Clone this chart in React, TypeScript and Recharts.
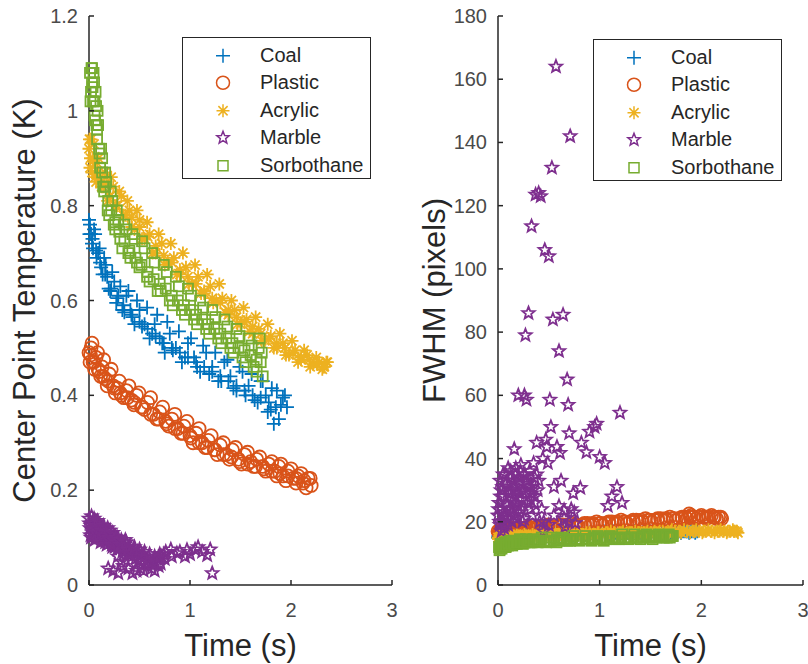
import React from "react";
import { ScatterChart, Scatter, XAxis, YAxis, Legend, Label } from "recharts";

// ---- data (each material has several passes of samples) ----
const coalTime = [
  0.00, 0.02, 0.04, 0.06, 0.09, 0.12, 0.15, 0.18, 0.21, 0.25, 0.29, 0.33, 0.37, 0.41, 0.45, 0.50, 0.55, 0.60, 0.65, 0.70, 0.75, 0.80, 0.86, 0.92, 0.98, 1.04, 1.10, 1.16, 1.22, 1.28, 1.34, 1.40, 1.46, 1.52, 1.58, 1.64, 1.70, 1.75, 1.80, 1.83, 1.86, 1.90, 1.94,
  0.01, 0.03, 0.05, 0.075, 0.105, 0.135, 0.165, 0.195, 0.23, 0.27, 0.31, 0.35, 0.39, 0.43, 0.475, 0.525, 0.575, 0.625, 0.675, 0.725, 0.775, 0.83, 0.89, 0.95, 1.01, 1.07, 1.13, 1.19, 1.25, 1.31, 1.37, 1.43, 1.49, 1.55, 1.61, 1.67, 1.72, 1.77, 1.81, 1.88, 1.92, 1.96,
  0.005, 0.035, 0.07, 0.11, 0.16, 0.22, 0.28, 0.34, 0.42, 0.50, 0.58, 0.66, 0.74, 0.82, 0.90, 0.98, 1.06, 1.14, 1.22, 1.30, 1.38, 1.46, 1.54, 1.62, 1.70, 1.78, 1.85,
];
const coalTemp = [
  0.77, 0.74, 0.71, 0.74, 0.70, 0.67, 0.69, 0.65, 0.62, 0.64, 0.61, 0.58, 0.61, 0.58, 0.55, 0.58, 0.55, 0.52, 0.55, 0.52, 0.49, 0.53, 0.50, 0.47, 0.51, 0.48, 0.45, 0.49, 0.46, 0.43, 0.47, 0.44, 0.41, 0.45, 0.42, 0.39, 0.43, 0.40, 0.37, 0.34, 0.41, 0.38, 0.40,
  0.76, 0.72, 0.75, 0.69, 0.71, 0.655, 0.675, 0.625, 0.66, 0.595, 0.63, 0.575, 0.62, 0.565, 0.60, 0.545, 0.585, 0.53, 0.57, 0.51, 0.555, 0.495, 0.535, 0.48, 0.52, 0.46, 0.505, 0.445, 0.49, 0.43, 0.475, 0.415, 0.46, 0.40, 0.445, 0.385, 0.43, 0.365, 0.415, 0.35, 0.395, 0.375,
  0.74, 0.73, 0.705, 0.68, 0.655, 0.625, 0.605, 0.59, 0.57, 0.555, 0.54, 0.525, 0.51, 0.50, 0.49, 0.48, 0.47, 0.46, 0.45, 0.44, 0.43, 0.42, 0.41, 0.40, 0.395, 0.385, 0.375,
];
const coalFwhm = [
  15, 16, 14.5, 15.5, 16, 15, 16, 15.5, 16.5, 15, 16, 15.5, 16.5, 15.5, 16, 16.5, 15.5, 16, 16.5, 16, 15.5, 16.5, 16, 16.5, 16, 17, 16, 16.5, 17, 16.5, 17, 16.5, 17, 17, 16.5, 17, 17, 17, 16.5, 17, 17, 17, 16.5,
  15.5, 15, 16, 15.5, 15, 16, 15.5, 16, 15.5, 16, 16, 15.5, 16, 16.5, 16, 15.5, 16.5, 16, 16, 16.5, 16, 16.5, 16, 16.5, 16.5, 16, 17, 16.5, 16.5, 17, 16.5, 17, 17, 16.5, 17, 17, 16.5, 17, 17, 16.5, 17, 17,
  15.5, 15, 16, 15.5, 16, 15.5, 16, 16, 15.5, 16, 16, 16.5, 16, 16.5, 16.5, 16, 16.5, 16.5, 17, 16.5, 16.5, 17, 16.5, 17, 16.5, 17, 17,
];

const plasticTime = [
  0.00, 0.02, 0.04, 0.07, 0.10, 0.13, 0.16, 0.20, 0.24, 0.28, 0.32, 0.37, 0.42, 0.47, 0.52, 0.58, 0.64, 0.70, 0.76, 0.82, 0.88, 0.94, 1.00, 1.06, 1.12, 1.18, 1.24, 1.30, 1.36, 1.42, 1.48, 1.54, 1.60, 1.66, 1.72, 1.78, 1.84, 1.88, 1.92, 1.97, 2.02, 2.07, 2.12, 2.17, 2.20,
  0.01, 0.03, 0.055, 0.085, 0.115, 0.145, 0.18, 0.22, 0.26, 0.30, 0.345, 0.395, 0.445, 0.495, 0.55, 0.61, 0.67, 0.73, 0.79, 0.85, 0.91, 0.97, 1.03, 1.09, 1.15, 1.21, 1.27, 1.33, 1.39, 1.45, 1.51, 1.57, 1.63, 1.69, 1.75, 1.81, 1.86, 1.90, 1.95, 2.00, 2.05, 2.10, 2.15, 2.19,
  0.015, 0.05, 0.09, 0.14, 0.19, 0.25, 0.31, 0.38, 0.45, 0.53, 0.61, 0.69, 0.77, 0.85, 0.93, 1.01, 1.09, 1.17, 1.25, 1.33, 1.41, 1.49, 1.57, 1.65, 1.73, 1.81, 1.89, 1.97, 2.05, 2.13,
];
const plasticTemp = [
  0.49, 0.50, 0.47, 0.48, 0.45, 0.46, 0.435, 0.445, 0.42, 0.415, 0.40, 0.41, 0.39, 0.40, 0.375, 0.385, 0.36, 0.365, 0.345, 0.35, 0.33, 0.335, 0.315, 0.32, 0.30, 0.305, 0.285, 0.295, 0.275, 0.285, 0.265, 0.275, 0.26, 0.265, 0.25, 0.255, 0.24, 0.25, 0.23, 0.24, 0.225, 0.23, 0.215, 0.225, 0.21,
  0.47, 0.51, 0.455, 0.49, 0.44, 0.475, 0.42, 0.455, 0.405, 0.43, 0.395, 0.42, 0.38, 0.405, 0.37, 0.395, 0.35, 0.375, 0.335, 0.36, 0.32, 0.345, 0.30, 0.33, 0.29, 0.315, 0.275, 0.30, 0.265, 0.29, 0.255, 0.28, 0.25, 0.27, 0.24, 0.26, 0.23, 0.255, 0.22, 0.245, 0.215, 0.235, 0.205, 0.225,
  0.485, 0.47, 0.455, 0.44, 0.43, 0.415, 0.405, 0.395, 0.385, 0.375, 0.36, 0.35, 0.34, 0.33, 0.32, 0.31, 0.30, 0.29, 0.285, 0.275, 0.27, 0.26, 0.255, 0.25, 0.245, 0.24, 0.235, 0.23, 0.225, 0.22,
];
const plasticFwhm = [
  17, 16.5, 17.5, 17, 17.5, 17, 17.5, 18, 17.5, 18, 18, 18, 18.5, 18, 18.5, 18.5, 19, 18.5, 19, 19, 19.5, 19, 19.5, 19.5, 20, 19.5, 20, 20, 20.5, 20, 20.5, 20.5, 21, 20.5, 21, 21, 21.5, 22.5, 21.5, 21.5, 21.5, 21.5, 21.5, 21.5, 21,
  16.5, 17.5, 16.5, 17.5, 17, 18, 17, 18, 17.5, 18.5, 17.5, 18.5, 18, 19, 18, 19, 18.5, 19.5, 18.5, 19.5, 19, 20, 19, 20, 19.5, 20.5, 19.5, 20.5, 20, 21, 20, 21, 20.5, 21.5, 20.5, 21.5, 21, 22, 21, 22, 21, 22, 21, 21.5,
  17, 17, 17.5, 17.5, 17.5, 18, 18, 18, 18.5, 18.5, 18.5, 19, 19, 19, 19.5, 19.5, 19.5, 20, 20, 20, 20.5, 20.5, 20.5, 21, 21, 21, 21.5, 21.5, 21.5, 21.5,
];

const acrylicTime = [
  0.00, 0.01, 0.02, 0.04, 0.06, 0.08, 0.11, 0.14, 0.17, 0.20, 0.24, 0.28, 0.32, 0.36, 0.40, 0.45, 0.50, 0.55, 0.60, 0.66, 0.72, 0.78, 0.84, 0.90, 0.96, 1.02, 1.08, 1.14, 1.20, 1.26, 1.32, 1.38, 1.44, 1.50, 1.56, 1.62, 1.68, 1.74, 1.80, 1.86, 1.92, 1.98, 2.04, 2.10, 2.16, 2.22, 2.28, 2.33, 2.36,
  0.005, 0.03, 0.05, 0.07, 0.095, 0.125, 0.155, 0.185, 0.22, 0.26, 0.30, 0.34, 0.38, 0.425, 0.475, 0.525, 0.575, 0.63, 0.69, 0.75, 0.81, 0.87, 0.93, 0.99, 1.05, 1.11, 1.17, 1.23, 1.29, 1.35, 1.41, 1.47, 1.53, 1.59, 1.65, 1.71, 1.77, 1.83, 1.89, 1.95, 2.01, 2.07, 2.13, 2.19, 2.25, 2.31, 2.35,
  0.015, 0.045, 0.09, 0.15, 0.21, 0.27, 0.34, 0.42, 0.50, 0.58, 0.66, 0.74, 0.82, 0.90, 0.98, 1.06, 1.14, 1.22, 1.30, 1.38, 1.46, 1.54, 1.62, 1.70, 1.78, 1.86, 1.94, 2.02, 2.10, 2.18, 2.26, 2.32,
];
const acrylicTemp = [
  0.92, 0.88, 0.94, 0.90, 0.86, 0.89, 0.86, 0.84, 0.86, 0.82, 0.84, 0.80, 0.82, 0.78, 0.79, 0.75, 0.77, 0.73, 0.74, 0.70, 0.72, 0.68, 0.69, 0.655, 0.67, 0.635, 0.65, 0.615, 0.63, 0.60, 0.605, 0.57, 0.58, 0.55, 0.56, 0.53, 0.54, 0.515, 0.525, 0.50, 0.51, 0.485, 0.495, 0.475, 0.485, 0.465, 0.47, 0.46, 0.47,
  0.94, 0.87, 0.93, 0.85, 0.90, 0.84, 0.87, 0.81, 0.86, 0.80, 0.83, 0.78, 0.81, 0.755, 0.79, 0.73, 0.765, 0.70, 0.74, 0.675, 0.72, 0.655, 0.70, 0.635, 0.675, 0.615, 0.655, 0.595, 0.635, 0.575, 0.60, 0.55, 0.585, 0.535, 0.565, 0.515, 0.55, 0.50, 0.53, 0.485, 0.515, 0.47, 0.495, 0.46, 0.48, 0.455, 0.47,
  0.90, 0.895, 0.87, 0.845, 0.82, 0.80, 0.78, 0.775, 0.755, 0.735, 0.715, 0.695, 0.68, 0.665, 0.65, 0.635, 0.62, 0.605, 0.595, 0.58, 0.565, 0.555, 0.545, 0.53, 0.52, 0.51, 0.50, 0.49, 0.48, 0.475, 0.465, 0.46,
];
const acrylicFwhm = [
  15, 14.5, 15.5, 15, 15, 15.5, 15, 15.5, 15, 15.5, 15.5, 15.5, 15.5, 15.5, 16, 15.5, 16, 15.5, 16, 16, 16, 16, 16, 16, 16, 16, 16.5, 16, 16.5, 16, 16.5, 16.5, 16.5, 16.5, 16.5, 16.5, 16.5, 17, 16.5, 17, 17, 17, 17, 17, 17, 17, 17, 17, 16.5,
  14.5, 15.5, 14.5, 15.5, 15, 16, 15, 16, 15, 16, 15.5, 16, 15.5, 16, 15.5, 16.5, 15.5, 16.5, 15.5, 16.5, 16, 16.5, 16, 16.5, 16, 17, 16, 17, 16.5, 17, 16.5, 17, 16.5, 17, 16.5, 17.5, 16.5, 17.5, 16.5, 17.5, 16.5, 17.5, 16.5, 17.5, 16.5, 17.5, 17,
  15, 15, 15, 15.5, 15.5, 15.5, 15.5, 16, 16, 16, 16, 16, 16, 16.5, 16.5, 16.5, 16.5, 16.5, 16.5, 16.5, 16.5, 17, 17, 17, 17, 17, 17, 17, 17, 17, 17, 17,
];

const marbleTime = [
  0.00, 0.01, 0.02, 0.02, 0.03, 0.04, 0.05, 0.05, 0.06, 0.06, 0.07, 0.08, 0.09, 0.10, 0.10, 0.11, 0.12, 0.13, 0.13, 0.14, 0.16, 0.16, 0.17, 0.17, 0.18, 0.19, 0.20, 0.21, 0.21, 0.22, 0.23, 0.24, 0.24, 0.25, 0.26, 0.27, 0.28, 0.28, 0.29, 0.30, 0.31, 0.32, 0.33, 0.33, 0.34, 0.35, 0.36, 0.36, 0.37, 0.38, 0.39, 0.40, 0.41, 0.42, 0.43, 0.44, 0.45, 0.46, 0.47, 0.48, 0.49, 0.50, 0.51, 0.52, 0.53, 0.54, 0.55, 0.57, 0.58, 0.60, 0.61, 0.62, 0.64, 0.65, 0.66, 0.68, 0.69, 0.70, 0.71, 0.72, 0.74, 0.76, 0.81, 0.82, 0.87, 0.90, 0.95, 0.97, 1.00, 1.05, 1.08, 1.12, 1.17, 1.20, 1.22,
  0.005, 0.015, 0.025, 0.035, 0.045, 0.055, 0.065, 0.075, 0.085, 0.095, 0.105, 0.115, 0.125, 0.135, 0.145, 0.155, 0.165, 0.175, 0.185, 0.195, 0.205, 0.215, 0.225, 0.235, 0.245, 0.255, 0.265, 0.275, 0.285, 0.295, 0.31, 0.32, 0.34, 0.36, 0.38, 0.40, 0.45, 0.50, 0.55, 0.60, 0.65, 0.70, 0.75,
];
const marbleTemp = [
  0.14, 0.12, 0.10, 0.125, 0.13, 0.11, 0.14, 0.105, 0.12, 0.135, 0.10, 0.13, 0.115, 0.10, 0.12, 0.125, 0.11, 0.095, 0.105, 0.12, 0.105, 0.09, 0.115, 0.10, 0.10, 0.035, 0.11, 0.09, 0.115, 0.105, 0.08, 0.03, 0.09, 0.10, 0.085, 0.095, 0.075, 0.10, 0.025, 0.09, 0.08, 0.095, 0.07, 0.085, 0.04, 0.085, 0.075, 0.095, 0.09, 0.065, 0.035, 0.08, 0.07, 0.06, 0.025, 0.075, 0.065, 0.055, 0.03, 0.07, 0.05, 0.06, 0.035, 0.065, 0.045, 0.03, 0.06, 0.05, 0.04, 0.055, 0.045, 0.035, 0.05, 0.03, 0.045, 0.055, 0.04, 0.065, 0.045, 0.06, 0.065, 0.07, 0.075, 0.06, 0.067, 0.07, 0.06, 0.074, 0.065, 0.075, 0.08, 0.07, 0.063, 0.075, 0.025,
  0.13, 0.105, 0.145, 0.115, 0.13, 0.095, 0.125, 0.11, 0.135, 0.105, 0.12, 0.09, 0.115, 0.105, 0.125, 0.095, 0.11, 0.085, 0.12, 0.10, 0.095, 0.105, 0.085, 0.11, 0.095, 0.08, 0.10, 0.09, 0.06, 0.095, 0.085, 0.05, 0.08, 0.09, 0.075, 0.065, 0.08, 0.075, 0.07, 0.065, 0.06, 0.06, 0.055,
];
const marbleFwhm = [
  22, 26, 19, 33, 30, 24, 20, 35, 28, 18, 22, 32, 25, 19, 37, 29, 34, 23, 30, 27, 43, 31, 35, 26, 21, 26, 60, 33, 29, 36, 24, 30, 20, 35, 60, 79, 58.6, 33, 32, 86, 36, 27, 113.5, 29, 22, 38.6, 34, 26, 123.5, 45, 30, 124, 20, 123, 24, 40, 17, 106, 46, 43.7, 38.6, 104, 58.6, 50, 132, 84, 31, 164, 43.7, 74, 41.8, 33, 85.5, 23.7, 18.4, 65, 57, 48, 142, 24, 29, 19.6, 30.7, 45, 42, 48.5, 50, 51, 40.5, 38.6, 25, 28, 31, 54.5, 26,
  24, 20, 28, 17, 31, 23, 19, 35, 26, 21, 31, 24, 36, 20, 33, 28, 22, 37, 30, 25, 34, 23, 38, 27, 32, 21, 35, 29, 33, 26, 31, 24, 30, 28, 35, 33, 20, 19, 22, 25, 21, 20, 23,
];

const sorbTime = [
  0.01, 0.02, 0.03, 0.04, 0.05, 0.06, 0.07, 0.08, 0.09, 0.11, 0.13, 0.15, 0.17, 0.20, 0.23, 0.26, 0.29, 0.33, 0.37, 0.41, 0.45, 0.50, 0.55, 0.60, 0.65, 0.71, 0.77, 0.83, 0.89, 0.95, 1.01, 1.07, 1.13, 1.19, 1.25, 1.31, 1.37, 1.43, 1.49, 1.55, 1.61, 1.66, 1.69, 1.71, 1.72,
  0.015, 0.025, 0.035, 0.045, 0.055, 0.065, 0.075, 0.085, 0.10, 0.12, 0.14, 0.16, 0.185, 0.215, 0.245, 0.275, 0.31, 0.35, 0.39, 0.43, 0.475, 0.525, 0.575, 0.625, 0.68, 0.74, 0.80, 0.86, 0.92, 0.98, 1.04, 1.10, 1.16, 1.22, 1.28, 1.34, 1.40, 1.46, 1.52, 1.58, 1.63, 1.68, 1.70,
  0.03, 0.055, 0.08, 0.105, 0.13, 0.16, 0.19, 0.22, 0.26, 0.30, 0.35, 0.40, 0.46, 0.52, 0.58, 0.64, 0.70, 0.76, 0.82, 0.88, 0.94, 1.00, 1.06, 1.12, 1.18, 1.24, 1.30, 1.36, 1.42, 1.48, 1.54, 1.60, 1.66,
];
const sorbTemp = [
  1.08, 1.04, 1.09, 1.02, 1.06, 0.98, 1.01, 0.94, 0.97, 0.88, 0.90, 0.83, 0.85, 0.78, 0.81, 0.75, 0.77, 0.71, 0.75, 0.69, 0.73, 0.67, 0.71, 0.64, 0.68, 0.62, 0.66, 0.59, 0.63, 0.57, 0.61, 0.55, 0.585, 0.53, 0.565, 0.51, 0.545, 0.49, 0.525, 0.47, 0.505, 0.45, 0.52, 0.49, 0.44,
  1.02, 1.09, 1.05, 1.08, 0.99, 1.04, 0.97, 1.00, 0.92, 0.92, 0.84, 0.87, 0.79, 0.83, 0.76, 0.79, 0.73, 0.76, 0.70, 0.74, 0.68, 0.725, 0.65, 0.70, 0.62, 0.675, 0.60, 0.65, 0.58, 0.625, 0.56, 0.60, 0.54, 0.58, 0.52, 0.56, 0.50, 0.54, 0.48, 0.52, 0.46, 0.50, 0.47,
  1.06, 1.02, 0.96, 0.91, 0.87, 0.84, 0.81, 0.79, 0.765, 0.745, 0.725, 0.705, 0.69, 0.675, 0.66, 0.645, 0.635, 0.625, 0.61, 0.60, 0.59, 0.58, 0.57, 0.56, 0.55, 0.54, 0.53, 0.52, 0.51, 0.50, 0.495, 0.485, 0.475,
];
const sorbFwhm = [
  12, 11.5, 12.5, 12, 12.5, 12.5, 13, 12.5, 13, 13, 13, 13, 13.5, 13.5, 13.5, 13.5, 14, 13.5, 14, 14, 14, 14, 14, 14, 14.5, 14, 14.5, 14.5, 14.5, 14.5, 14.5, 14.5, 15, 14.5, 15, 15, 15, 15, 15, 15, 15.5, 15, 15, 15.5, 15.5,
  11, 13, 11.5, 13, 12, 13.5, 12, 13.5, 12.5, 14, 12.5, 14, 13, 14.5, 13, 14.5, 13.5, 14.5, 13.5, 15, 13.5, 15, 13.5, 15, 14, 15.5, 14, 15.5, 14, 15.5, 14, 15.5, 14.5, 16, 14.5, 16, 14.5, 16, 14.5, 16, 15, 16, 15.5,
  12, 12.5, 12.5, 13, 13, 13, 13.5, 13.5, 13.5, 14, 14, 14, 14, 14, 14.5, 14.5, 14.5, 14.5, 14.5, 14.5, 15, 15, 15, 15, 15, 15, 15, 15, 15.5, 15.5, 15.5, 15.5, 15.5,
];

const timeTicks = [0, 1, 2, 3];
const tempTicks = [0, 0.2, 0.4, 0.6, 0.8, 1, 1.2];
const fwhmTicks = [0, 20, 40, 60, 80, 100, 120, 140, 160, 180];

// ---- styling ----
const FONT = "'Liberation Sans', Arial, Helvetica, sans-serif";
const AXIS = "#262626";
const TICK_TEXT = "#4a4a4a";

type Kind = "plus" | "circle" | "asterisk" | "star" | "square";

const build = (t: number[], temp: number[], fwhm: number[]) =>
  t.map((v, i) => ({ t: v, temp: temp[i], fwhm: fwhm[i] }));

const series = [
  { name: "Coal", kind: "plus" as Kind, color: "#0072BD", data: build(coalTime, coalTemp, coalFwhm) },
  { name: "Plastic", kind: "circle" as Kind, color: "#D95319", data: build(plasticTime, plasticTemp, plasticFwhm) },
  { name: "Acrylic", kind: "asterisk" as Kind, color: "#EDB120", data: build(acrylicTime, acrylicTemp, acrylicFwhm) },
  { name: "Marble", kind: "star" as Kind, color: "#7E2F8E", data: build(marbleTime, marbleTemp, marbleFwhm) },
  { name: "Sorbothane", kind: "square" as Kind, color: "#77AC30", data: build(sorbTime, sorbTemp, sorbFwhm) },
];

function Marker({ kind, cx, cy, color, sw = 1.5 }: { kind: Kind; cx: number; cy: number; color: string; sw?: number }) {
  if (kind === "plus") {
    return <path d={`M${cx - 7},${cy}H${cx + 7}M${cx},${cy - 7}V${cy + 7}`} stroke={color} strokeWidth={sw} fill="none" />;
  }
  if (kind === "circle") {
    return <circle cx={cx} cy={cy} r={6.5} stroke={color} strokeWidth={sw} fill="none" />;
  }
  if (kind === "asterisk") {
    const r = 6.5;
    const d = r * 0.707;
    return (
      <path
        d={`M${cx - r},${cy}H${cx + r}M${cx},${cy - r}V${cy + r}M${cx - d},${cy - d}L${cx + d},${cy + d}M${cx - d},${cy + d}L${cx + d},${cy - d}`}
        stroke={color}
        strokeWidth={sw}
        fill="none"
      />
    );
  }
  if (kind === "star") {
    const pts: string[] = [];
    for (let k = 0; k < 10; k++) {
      const r = k % 2 === 0 ? 6.5 : 2.8;
      const a = -Math.PI / 2 + (k * Math.PI) / 5;
      pts.push(`${cx + r * Math.cos(a)},${cy + r * Math.sin(a)}`);
    }
    return <polygon points={pts.join(" ")} stroke={color} strokeWidth={sw} fill="none" />;
  }
  return <rect x={cx - 5} y={cy - 5} width={10} height={10} stroke={color} strokeWidth={sw} fill="none" />;
}

function LegendBox() {
  return (
    <div
      style={{
        width: 189,
        height: 142,
        border: `1.5px solid ${AXIS}`,
        background: "#fff",
        boxSizing: "border-box",
        position: "relative",
        fontFamily: FONT,
      }}
    >
      {series.map((s, i) => (
        <div
          key={s.name}
          style={{ position: "absolute", left: 0, top: 3.5 + i * 27.5, height: 27.5, display: "flex", alignItems: "center" }}
        >
          <svg width={77} height={27.5} style={{ display: "block" }}>
            <Marker kind={s.kind} cx={40} cy={13.75} color={s.color} />
          </svg>
          <span style={{ fontSize: 20, color: AXIS, lineHeight: "27.5px" }}>{s.name}</span>
        </div>
      ))}
    </div>
  );
}

function XTick(props: any) {
  const { x, y, payload } = props;
  return (
    <g>
      <line x1={x} x2={x} y1={y} y2={y - 5} stroke={AXIS} strokeWidth={1.5} />
      <text x={x} y={y + 32} textAnchor="middle" fill={TICK_TEXT} fontSize={20} fontFamily={FONT}>
        {payload.value}
      </text>
    </g>
  );
}

function YTick(props: any) {
  const { x, y, payload } = props;
  return (
    <g>
      <line x1={x} x2={x + 5} y1={y} y2={y} stroke={AXIS} strokeWidth={1.5} />
      <text x={x - 11} y={y} dy="0.35em" textAnchor="end" fill={TICK_TEXT} fontSize={20} fontFamily={FONT}>
        {payload.value}
      </text>
    </g>
  );
}

interface PanelProps {
  width: number;
  yKey: "temp" | "fwhm";
  yDomain: [number, number];
  yTicks: number[];
  yWidth: number;
  rightMargin: number;
  yLabel: string;
  yLabelX: number;
  legendLeft: number;
  legendTop: number;
}

function Panel(p: PanelProps) {
  return (
    <ScatterChart width={p.width} height={664} margin={{ top: 16, right: p.rightMargin, bottom: 0, left: 0 }}>
      <XAxis
        type="number"
        dataKey="t"
        domain={[0, 3]}
        ticks={timeTicks}
        interval={0}
        height={79}
        tickSize={0}
        tickMargin={0}
        tickLine={false}
        axisLine={{ stroke: AXIS, strokeWidth: 1.5 }}
        tick={(tp: any) => <XTick {...tp} />}
      >
        <Label
          content={({ viewBox }: any) => (
            <text
              x={viewBox.x + viewBox.width / 2}
              y={viewBox.y + 71}
              textAnchor="middle"
              fill={AXIS}
              fontSize={31}
              fontFamily={FONT}
            >
              Time (s)
            </text>
          )}
        />
      </XAxis>
      <YAxis
        type="number"
        dataKey={p.yKey}
        domain={p.yDomain}
        ticks={p.yTicks}
        interval={0}
        width={p.yWidth}
        tickSize={0}
        tickMargin={0}
        tickLine={false}
        allowDataOverflow
        axisLine={{ stroke: AXIS, strokeWidth: 1.5 }}
        tick={(tp: any) => <YTick {...tp} />}
      >
        <Label
          content={({ viewBox }: any) => (
            <text
              transform={`translate(${p.yLabelX}, ${viewBox.y + viewBox.height / 2}) rotate(-90)`}
              textAnchor="middle"
              fill={AXIS}
              fontSize={31}
              fontFamily={FONT}
            >
              {p.yLabel}
            </text>
          )}
        />
      </YAxis>
      {series.map((s) => (
        <Scatter
          key={s.name}
          name={s.name}
          data={s.data}
          isAnimationActive={false}
          shape={(sp: any) => <Marker kind={s.kind} cx={sp.cx} cy={sp.cy} color={s.color} sw={1.8} />}
        />
      ))}
      <Legend
        layout="vertical"
        align="center"
        verticalAlign="middle"
        content={() => <LegendBox />}
        wrapperStyle={{ left: p.legendLeft, top: p.legendTop, width: 189, height: 142 }}
      />
    </ScatterChart>
  );
}

export default function App() {
  return (
    <div style={{ position: "absolute", left: 0, top: 0, width: 808, height: 664, background: "#fff", display: "flex" }}>
      <Panel
        width={404}
        yKey="temp"
        yDomain={[0, 1.2]}
        yTicks={tempTicks}
        yWidth={89}
        rightMargin={12}
        yLabel="Center Point Temperature (K)"
        yLabelX={35}
        legendLeft={182}
        legendTop={37}
      />
      <Panel
        width={404}
        yKey="fwhm"
        yDomain={[0, 180]}
        yTicks={fwhmTicks}
        yWidth={94}
        rightMargin={5}
        yLabel="FWHM (pixels)"
        yLabelX={41}
        legendLeft={189}
        legendTop={39}
      />
    </div>
  );
}
